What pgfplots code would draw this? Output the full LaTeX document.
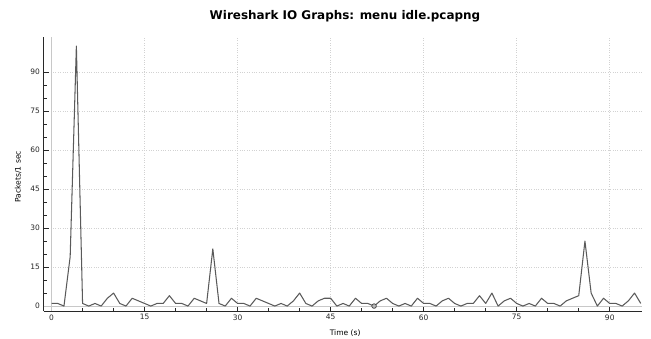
\documentclass[border=0pt]{standalone}
\usepackage{pgfplots}
\pgfplotsset{compat=1.18}
\usepackage{fontspec}
\setmainfont{DejaVu Sans}
\definecolor{lineclr}{RGB}{90,90,90}
\definecolor{gridclr}{RGB}{210,210,210}
\definecolor{zeroclr}{RGB}{200,200,200}
\definecolor{axclr}{RGB}{40,40,40}
\begin{document}
\begin{tikzpicture}
\path[use as bounding box] (0,0) rectangle (651bp,339bp);
\begin{axis}[
  at={(43.5bp,28bp)}, anchor=south west,
  scale only axis, width=598.5bp, height=274bp,
  xmin=-1.3, xmax=95.2, ymin=-1.9, ymax=103.5,
  axis lines=left, axis line style={-, draw=axclr, line width=0.8bp},
  xtick={0,15,...,90}, ytick={0,15,...,90},
  minor tick num=2,
  tick align=inside,
  major tick length=5bp, minor tick length=3bp,
  tick style={draw=axclr, line width=0.7bp},
  grid=major,
  major grid style={draw=gridclr, dotted, line width=0.6bp},
  /pgf/number format/assume math mode=true,
  tick label style={font=\fontsize{7.5}{9}\selectfont, text=black!85},
  xlabel={Time (s)}, ylabel={Packets/1 sec},
  label style={font=\fontsize{7.6}{9}\selectfont},
  xlabel style={at={(axis description cs:0.504,-0.080)}, anchor=center},
  ylabel style={at={(axis description cs:-0.0425,0.49)}, anchor=center},
  extra x ticks={0}, extra x tick labels={},
  extra y ticks={0}, extra y tick labels={},
  extra tick style={major tick length=0pt, grid=major, major grid style={draw=zeroclr, solid, line width=0.8bp}},
  clip=false,
]
\addplot[lineclr, line width=1.05bp, line join=round] coordinates {
(0,1)(1,1)(2,0)(3,19)(4,100)(5,1)(6,0)(7,1)(8,0)(9,3)
(10,5)(11,1)(12,0)(13,3)(14,2)(15,1)(16,0)(17,1)(18,1)(19,4)
(20,1)(21,1)(22,0)(23,3)(24,2)(25,1)(26,22)(27,1)(28,0)(29,3)
(30,1)(31,1)(32,0)(33,3)(34,2)(35,1)(36,0)(37,1)(38,0)(39,2)
(40,5)(41,1)(42,0)(43,2)(44,3)(45,3)(46,0)(47,1)(48,0)(49,3)
(50,1)(51,1)(52,0)(53,2)(54,3)(55,1)(56,0)(57,1)(58,0)(59,3)
(60,1)(61,1)(62,0)(63,2)(64,3)(65,1)(66,0)(67,1)(68,1)(69,4)
(70,1)(71,5)(72,0)(73,2)(74,3)(75,1)(76,0)(77,1)(78,0)(79,3)
(80,1)(81,1)(82,0)(83,2)(84,3)(85,4)(86,25)(87,5)(88,0)(89,3)
(90,1)(91,1)(92,0)(93,2)(94,5)(95,1)
};
\addplot[only marks, mark=*, mark size=2.3bp, mark options={fill=gray!55, draw=black!75, line width=0.7bp}] coordinates {(52,0)};
\end{axis}
\node[font=\fontsize{12}{14}\selectfont\bfseries, text=black] at (345bp,323bp) {Wireshark IO Graphs: menu idle.pcapng};
\end{tikzpicture}
\end{document}
